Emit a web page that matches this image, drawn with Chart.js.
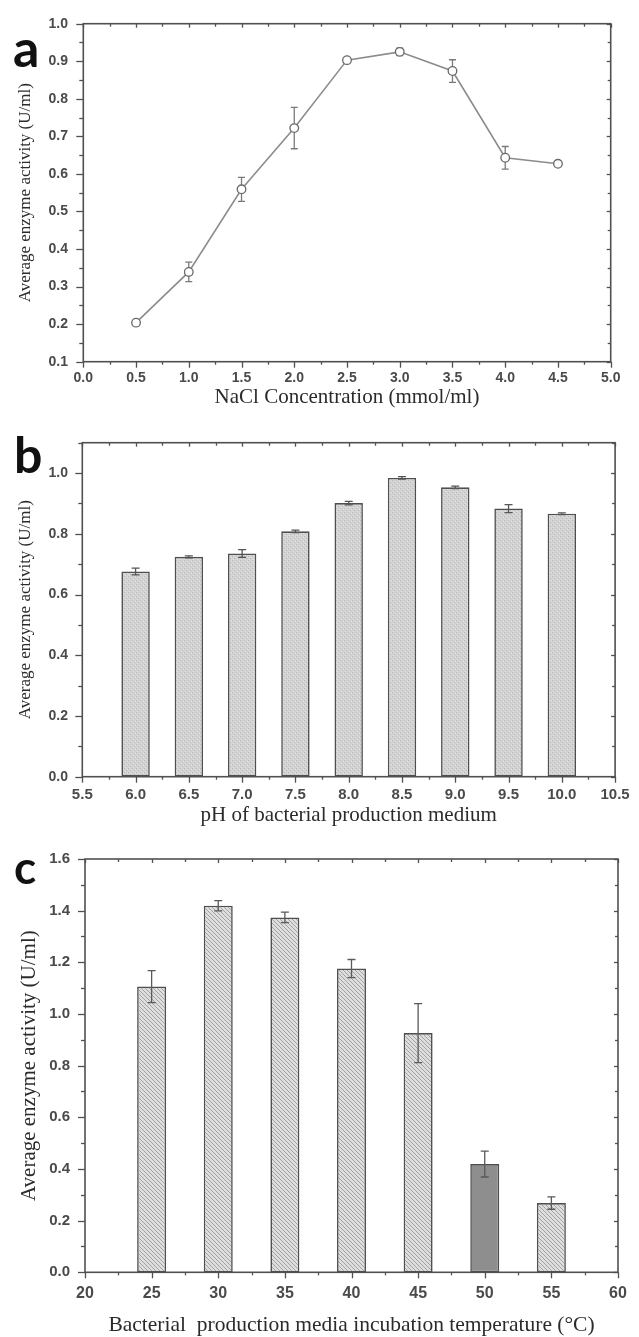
<!DOCTYPE html>
<html><head><meta charset="utf-8">
<script src="https://cdn.jsdelivr.net/npm/chart.js@4.4.1/dist/chart.umd.min.js"></script>
<style>
html,body{margin:0;padding:0;background:#fff;}
#wrap{position:relative;width:639px;height:1337px;overflow:hidden;background:#fff;}
canvas{position:absolute;left:0;}
</style></head><body>
<div id="wrap">
<canvas id="ca" width="639" height="415" style="top:0px"></canvas>
<canvas id="cb" width="639" height="410" style="top:420px"></canvas>
<canvas id="cc" width="639" height="502" style="top:835px"></canvas>
</div>
<script>
// ---------- Panel a: NaCl concentration ----------
const naclConc      = [0.5, 1.0, 1.5, 2.0, 2.5, 3.0, 3.5, 4.0, 4.5];
const naclActivity  = [0.204, 0.339, 0.559, 0.722, 0.903, 0.925, 0.874, 0.643, 0.627];
const naclError     = [0.005, 0.026, 0.032, 0.055, 0.005, 0.010, 0.030, 0.030, 0.005];
const aXTicks       = [0, 0.5, 1, 1.5, 2, 2.5, 3, 3.5, 4, 4.5, 5];
const aXTickLabels  = ['0.0','0.5','1.0','1.5','2.0','2.5','3.0','3.5','4.0','4.5','5.0'];
const aYTicks       = [0.1,0.2,0.3,0.4,0.5,0.6,0.7,0.8,0.9,1.0];
const aYTickLabels  = ['0.1','0.2','0.3','0.4','0.5','0.6','0.7','0.8','0.9','1.0'];

// ---------- Panel b: pH ----------
const phValues      = [6.0, 6.5, 7.0, 7.5, 8.0, 8.5, 9.0, 9.5, 10.0];
const phActivity    = [0.676, 0.724, 0.735, 0.808, 0.901, 0.984, 0.953, 0.883, 0.866];
const phError       = [0.011, 0.003, 0.013, 0.004, 0.006, 0.004, 0.004, 0.013, 0.003];
const bXTicks       = [5.5, 6, 6.5, 7, 7.5, 8, 8.5, 9, 9.5, 10, 10.5];
const bXTickLabels  = ['5.5','6.0','6.5','7.0','7.5','8.0','8.5','9.0','9.5','10.0','10.5'];
const bYTicks       = [0, 0.2, 0.4, 0.6, 0.8, 1.0];
const bYTickLabels  = ['0.0','0.2','0.4','0.6','0.8','1.0'];

// ---------- Panel c: temperature ----------
const tempValues    = [25, 30, 35, 40, 45, 50, 55];
const tempActivity  = [1.106, 1.419, 1.374, 1.176, 0.926, 0.419, 0.268];
const tempError     = [0.062, 0.020, 0.020, 0.035, 0.114, 0.050, 0.024];
const cXTicks       = [20, 25, 30, 35, 40, 45, 50, 55, 60];
const cXTickLabels  = ['20','25','30','35','40','45','50','55','60'];
const cYTicks       = [0, 0.2, 0.4, 0.6, 0.8, 1.0, 1.2, 1.4, 1.6];
const cYTickLabels  = ['0.0','0.2','0.4','0.6','0.8','1.0','1.2','1.4','1.6'];

// ---------- helpers ----------
function makePattern(kind){
  const t = document.createElement('canvas');
  const s = 4;
  t.width = s; t.height = s;
  const g = t.getContext('2d');
  if (kind === 'cross') {
    g.fillStyle = '#d3d3d3'; g.fillRect(0,0,s,s);
    g.fillStyle = '#b8b8b8';
    g.fillRect(0,0,1,1); g.fillRect(2,2,1,1);
    g.fillStyle = '#e2e2e2';
    g.fillRect(1,3,1,1); g.fillRect(3,1,1,1);
  } else {
    g.fillStyle = '#dedede'; g.fillRect(0,0,s,s);
    g.strokeStyle = '#a2a2a2'; g.lineWidth = 1;
    g.beginPath();
    g.moveTo(-1,-1); g.lineTo(s+1,s+1);
    g.moveTo(s-2,-2); g.lineTo(s+2,2);
    g.moveTo(-2,s-2); g.lineTo(2,s+2);
    g.stroke();
  }
  return document.createElement('canvas').getContext('2d').createPattern(t,'repeat');
}

const framePlugin = {
  id: 'frame',
  afterDraw(chart, args, o) {
    const {ctx, chartArea: {left, right, top, bottom}, scales: {x, y}} = chart;
    ctx.save();
    ctx.strokeStyle = o.color; ctx.lineCap = 'butt';
    const seg = (x1,y1,x2,y2) => { ctx.beginPath(); ctx.moveTo(x1,y1); ctx.lineTo(x2,y2); ctx.stroke(); };
    ctx.lineWidth = 1.3;
    const nx = Math.round((x.max - x.min) / o.xMinor);
    for (let i = 0; i <= nx; i++) {
      const v = x.min + i * o.xMinor;
      const major = Math.abs(v / o.xMajor - Math.round(v / o.xMajor)) < 1e-6;
      const px = Math.round(x.getPixelForValue(v)) + 0.5;
      seg(px, bottom, px, bottom + (major ? 6 : 3));
      seg(px, top, px, top + (major ? 4 : 3));
    }
    const ny = Math.round((y.max - y.min) / o.yMinor);
    for (let i = 0; i <= ny; i++) {
      const v = y.min + i * o.yMinor;
      const major = Math.abs(v / o.yMajor - Math.round(v / o.yMajor)) < 1e-6;
      const py = Math.round(y.getPixelForValue(v)) + 0.5;
      seg(left, py, left - (major ? 7 : 4), py);
      seg(right, py, right - (major ? 4 : 3), py);
    }
    ctx.lineWidth = 1.6;
    ctx.strokeRect(left, top, right - left, bottom - top);
    // panel letter
    ctx.fillStyle = '#111';
    ctx.font = o.letterFont;
    ctx.textBaseline = 'alphabetic'; ctx.textAlign = 'left';
    ctx.fillText(o.letter, o.letterX, o.letterY);
    ctx.restore();
  }
};

function drawErr(chart, o) {
  const {ctx, scales: {y}} = chart;
  const meta = chart.getDatasetMeta(0);
  const ds = chart.data.datasets[0].data;
  ctx.save();
  ctx.strokeStyle = o.color; ctx.lineWidth = o.width;
  meta.data.forEach((el, i) => {
    const v = ds[i].y, e = o.err[i];
    const xp = el.x;
    const y1 = y.getPixelForValue(v + e), y2 = y.getPixelForValue(v - e);
    ctx.beginPath();
    ctx.moveTo(xp, y1); ctx.lineTo(xp, y2);
    ctx.moveTo(xp - o.cap, y1); ctx.lineTo(xp + o.cap, y1);
    ctx.moveTo(xp - o.cap, y2); ctx.lineTo(xp + o.cap, y2);
    ctx.stroke();
  });
  ctx.restore();
}
const errPlugin = {
  id: 'errbars',
  beforeDatasetsDraw(chart, args, o) { if (o.before) drawErr(chart, o); },
  afterDatasetsDraw(chart, args, o) { if (!o.before) drawErr(chart, o); }
};

const tickFont = (size) => ({family: '"Liberation Sans", Arial, sans-serif', size: size, weight: 'bold'});
const titleFont = (size, lh) => ({family: '"Liberation Serif", "Times New Roman", serif', size: size, lineHeight: lh || 1.2});

function xScale(min, max, ticks, labels, fontSize, pad, axisH, title, tSize, tPadB, tLh) {
  return {
    type: 'linear', min: min, max: max, offset: false,
    grid: {display: false, drawTicks: false},
    border: {display: false},
    afterBuildTicks: s => { s.ticks = ticks.map(v => ({value: v})); },
    afterFit: s => { s.height = axisH; },
    ticks: {font: tickFont(fontSize), color: '#4a4a4a', padding: pad, maxRotation: 0, autoSkip: false,
            callback: (v, i) => labels[i]},
    title: {display: true, text: title, font: titleFont(tSize, tLh), color: '#2b2b2b', padding: {top: 0, bottom: tPadB}}
  };
}
function yScale(min, max, ticks, labels, fontSize, pad, axisW, title, tSize, tPadT) {
  return {
    type: 'linear', min: min, max: max,
    grid: {display: false, drawTicks: false},
    border: {display: false},
    afterBuildTicks: s => { s.ticks = ticks.map(v => ({value: v})); },
    afterFit: s => { s.width = axisW; },
    ticks: {font: tickFont(fontSize), color: '#4a4a4a', padding: pad, autoSkip: false,
            callback: (v, i) => labels[i]},
    title: {display: true, text: title, font: titleFont(tSize), color: '#2b2b2b', padding: {top: tPadT, bottom: 0}}
  };
}

Chart.defaults.animation = false;
Chart.defaults.devicePixelRatio = 1;

// ---------- Chart a ----------
new Chart(document.getElementById('ca'), {
  type: 'line',
  data: {datasets: [{
    data: naclConc.map((c, i) => ({x: c, y: naclActivity[i]})),
    borderColor: '#8c8c8c', borderWidth: 1.6,
    pointRadius: 4.3, pointBorderWidth: 1.3, pointBorderColor: '#686868', pointBackgroundColor: '#ffffff',
    tension: 0, fill: false
  }]},
  options: {
    responsive: false, animation: false,
    layout: {padding: {top: 20, right: 28.3, left: 0, bottom: 0}},
    plugins: {
      legend: {display: false}, tooltip: {enabled: false},
      errbars: {err: naclError, color: '#7a7a7a', width: 1.3, cap: 3.5, before: true},
      frame: {color: '#505050', xMinor: 0.25, xMajor: 0.5, yMinor: 0.05, yMajor: 0.1,
              letter: 'a', letterX: 13, letterY: 67, letterFont: 'bold 52px Lato, "Liberation Sans", sans-serif'}
    },
    scales: {
      x: xScale(0, 5, aXTicks, aXTickLabels, 14, 8.2, 53.3, 'NaCl Concentration (mmol/ml)', 21, 5.4),
      y: yScale(0.1, 1.0, aYTicks, aYTickLabels, 14, 15.3, 83.3, 'Average enzyme activity (U/ml)', 17, 15.8)
    }
  },
  plugins: [errPlugin, framePlugin]
});

// ---------- Chart b ----------
new Chart(document.getElementById('cb'), {
  type: 'bar',
  data: {datasets: [{
    data: phValues.map((p, i) => ({x: p, y: phActivity[i]})),
    backgroundColor: makePattern('cross'),
    borderColor: '#4f4f4f', borderWidth: 1.6, borderSkipped: false,
    categoryPercentage: 1.0, barPercentage: 0.533
  }]},
  options: {
    responsive: false, animation: false,
    layout: {padding: {top: 17, right: 20, left: 0, bottom: 0}},
    plugins: {
      legend: {display: false}, tooltip: {enabled: false},
      errbars: {err: phError, color: '#555555', width: 1.3, cap: 4, before: false},
      frame: {color: '#505050', xMinor: 0.25, xMajor: 0.5, yMinor: 0.1, yMajor: 0.2,
              letter: 'b', letterX: 14, letterY: 53, letterFont: 'bold 50px Lato, "Liberation Sans", sans-serif'}
    },
    scales: {
      x: xScale(5.5, 10.5, bXTicks, bXTickLabels, 15, 9.3, 53.3, 'pH of bacterial production medium', 21, 2.4),
      y: yScale(0, 1.1, bYTicks, bYTickLabels, 14, 14.3, 82.3, 'Average enzyme activity (U/ml)', 17, 15.8)
    }
  },
  plugins: [errPlugin, framePlugin]
});

// ---------- Chart c ----------
const cPat = makePattern('diag');
new Chart(document.getElementById('cc'), {
  type: 'bar',
  data: {datasets: [{
    data: tempValues.map((t, i) => ({x: t, y: tempActivity[i]})),
    backgroundColor: tempValues.map(t => t === 50 ? '#8e8e8e' : cPat),
    borderColor: '#4f4f4f', borderWidth: 1.6, borderSkipped: false,
    categoryPercentage: 1.0, barPercentage: 0.435
  }]},
  options: {
    responsive: false, animation: false,
    layout: {padding: {top: 20, right: 21, left: 0, bottom: 0}},
    plugins: {
      legend: {display: false}, tooltip: {enabled: false},
      errbars: {err: tempError, color: '#5a5a5a', width: 1.3, cap: 4, before: false},
      frame: {color: '#505050', xMinor: 2.5, xMajor: 5, yMinor: 0.1, yMajor: 0.2,
              letter: 'c', letterX: 14, letterY: 49, letterFont: 'bold 46px Lato, "Liberation Sans", sans-serif'}
    },
    scales: {
      x: xScale(20, 60, cXTicks, cXTickLabels, 16, 12.1, 64.7, 'Bacterial  production media incubation temperature (\u00B0C)', 21.5, 0.5, 1.0),
      y: yScale(0, 1.6, cYTicks, cYTickLabels, 15, 15, 85, 'Average enzyme activity (U/ml)', 21, 16.5)
    }
  },
  plugins: [errPlugin, framePlugin]
});
</script>
</body></html>
